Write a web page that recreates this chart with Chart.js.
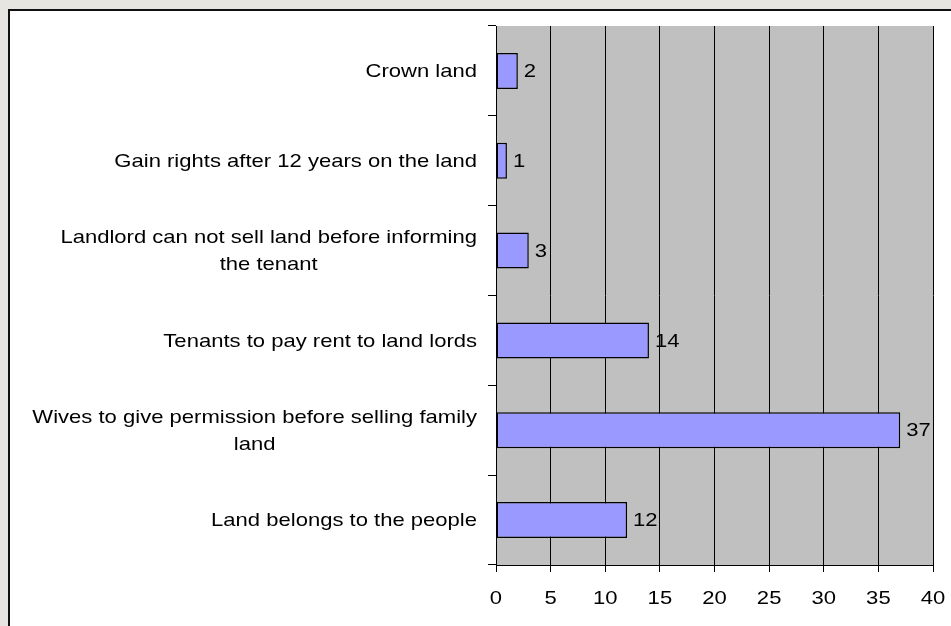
<!DOCTYPE html>
<html>
<head>
<meta charset="utf-8">
<title>Land rights</title>
<script src="https://cdn.jsdelivr.net/npm/chart.js@4/dist/chart.umd.min.js"></script>
<style>
    body { margin: 0; background: #e6e5e1; }
    #frame {
        position: absolute; left: 8px; top: 9px; width: 941px; height: 615px;
        background: #fff; border-top: 2px solid #111; border-left: 2px solid #111;
    }
    #wrap { position: absolute; left: 0; top: 0; width: 951px; height: 626px; }
</style>
</head>
<body>
<div id="frame"></div>
<div id="wrap"><canvas id="landChart" width="951" height="626"></canvas></div>
<script>
// Responses, top to bottom
const categories = [
    ['Crown land'],
    ['Gain rights after 12 years on the land'],
    ['Landlord can not sell land before informing', 'the tenant'],
    ['Tenants to pay rent to land lords'],
    ['Wives to give permission before selling family', 'land'],
    ['Land belongs to the people']
];
const counts = [2, 1, 3, 14, 37, 12];
const axisMin = 0;
const axisMax = 40;
const axisStep = 5;

const FONT = '19px "Liberation Sans", Arial, sans-serif';
const STRETCH = 1.16;   // text is drawn a little wide

// Gray plot background
const plotBackground = {
    id: 'plotBackground',
    beforeDraw(chart) {
        const { ctx, chartArea } = chart;
        ctx.save();
        ctx.fillStyle = '#c0c0c0';
        ctx.fillRect(chartArea.left, chartArea.top, chartArea.right - chartArea.left, chartArea.bottom - chartArea.top);
        ctx.restore();
    }
};

function wideText(ctx, text, x, y, align) {
    ctx.save();
    ctx.translate(x, y);
    ctx.scale(STRETCH, 1);
    ctx.textAlign = align;
    ctx.fillText(text, 0, 0);
    ctx.restore();
}

// Category labels (lines centred on each other), axis numbers and value labels
const textLabels = {
    id: 'textLabels',
    afterDraw(chart) {
        const ctx = chart.ctx;
        const xScale = chart.scales.x;
        const yScale = chart.scales.y;
        ctx.save();
        ctx.font = FONT;
        ctx.fillStyle = '#000';
        ctx.textBaseline = 'middle';

        categories.forEach((lines, i) => {
            const yc = yScale.getPixelForValue(i);
            const w = Math.max(...lines.map(l => ctx.measureText(l).width)) * STRETCH;
            const cx = yScale.right - 19 - w / 2;
            const lineH = 27;
            const y0 = yc - (lines.length - 1) * lineH / 2 + 1;
            lines.forEach((l, j) => wideText(ctx, l, cx, y0 + j * lineH, 'center'));
        });

        xScale.ticks.forEach(t => {
            wideText(ctx, String(t.value), xScale.getPixelForValue(t.value), xScale.top + 34, 'center');
        });

        const meta = chart.getDatasetMeta(0);
        meta.data.forEach((bar, i) => {
            wideText(ctx, String(counts[i]), bar.x + 6, bar.y + 1, 'left');
        });
        ctx.restore();
    }
};

const ctx = document.getElementById('landChart').getContext('2d');
const chart = new Chart(ctx, {
    type: 'bar',
    data: {
        labels: categories,
        datasets: [{
            data: counts,
            backgroundColor: '#9999ff',
            borderColor: '#000',
            borderWidth: 1.5,
            borderSkipped: false,
            barPercentage: 0.4,
            categoryPercentage: 1
        }]
    },
    options: {
        indexAxis: 'y',
        responsive: false,
        animation: false,
        layout: { padding: { top: 26, right: 18, bottom: 0, left: 0 } },
        plugins: {
            legend: { display: false },
            tooltip: { enabled: false }
        },
        scales: {
            x: {
                min: axisMin,
                max: axisMax,
                afterFit(scale) { scale.height = 61; },
                ticks: { stepSize: axisStep, display: false },
                grid: { color: '#000', lineWidth: 1, tickLength: 7 },
                border: { color: '#000', width: 1 }
            },
            y: {
                afterFit(scale) { scale.width = 496; },
                ticks: { display: false },
                grid: { drawOnChartArea: false, offset: true, color: '#000', tickLength: 8 },
                border: { color: '#000', width: 1 }
            }
        }
    },
    plugins: [plotBackground, textLabels]
});
</script>
</body>
</html>
